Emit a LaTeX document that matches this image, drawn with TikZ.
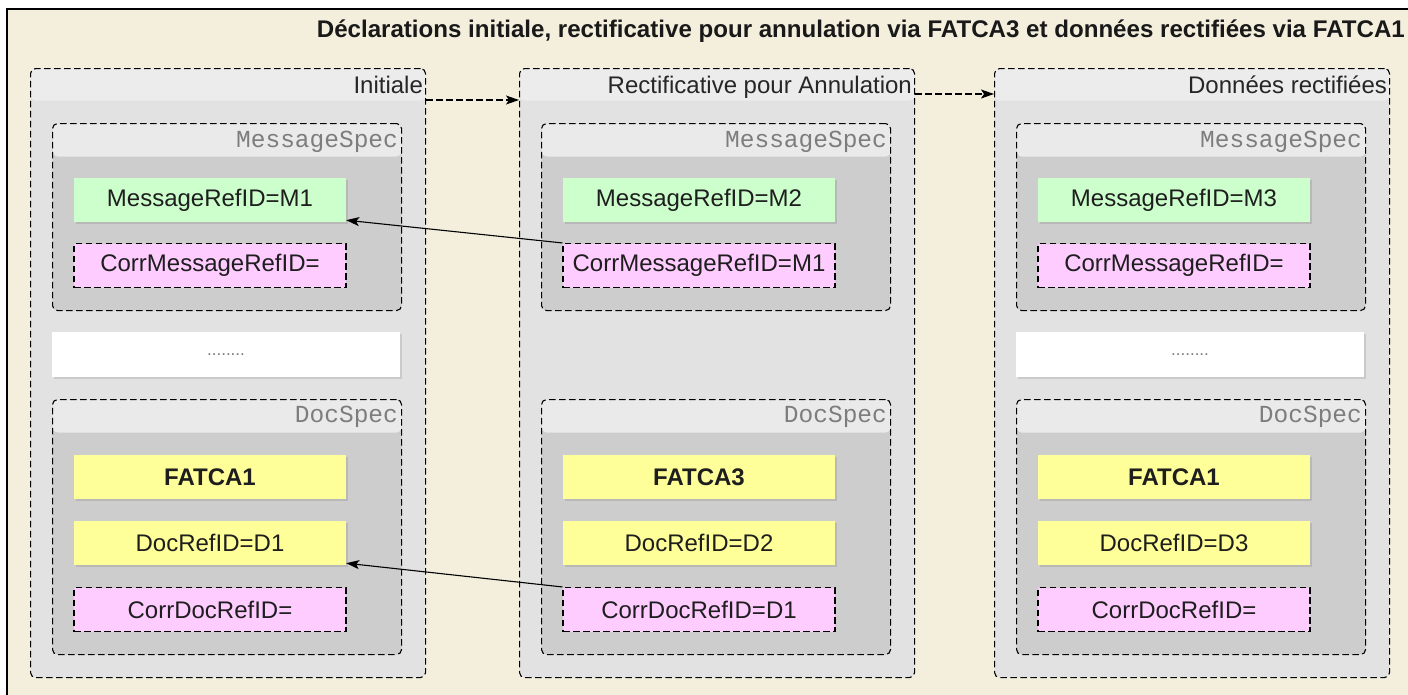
\documentclass[tikz,border=0pt]{standalone}
\usepackage{fontspec}
\setmainfont{Liberation Sans}
\setmonofont{Liberation Mono}
\usetikzlibrary{arrows.meta,shadows,calc}
\definecolor{bgbeige}{RGB}{243,239,220}
\definecolor{colhead}{RGB}{236,236,236}
\definecolor{colbody}{RGB}{226,226,226}
\definecolor{spechead}{RGB}{234,234,234}
\definecolor{specbody}{RGB}{205,205,205}
\definecolor{boxgreen}{RGB}{204,255,204}
\definecolor{boxpink}{RGB}{255,204,255}
\definecolor{boxyellow}{RGB}{255,255,153}
\definecolor{labgray}{RGB}{125,125,125}
\definecolor{txtdark}{RGB}{30,30,30}
\tikzset{
  dashln/.style={dash pattern=on 6.5pt off 3.5pt, line width=1.1pt},
  container/.style={draw=black, dashln, rounded corners=5pt, inner sep=0pt, anchor=north west},
  colbox/.style={container, fill=colbody, minimum width=395pt, minimum height=609pt,
    path picture={\fill[colhead] (path picture bounding box.north west) rectangle ([yshift=-32pt]path picture bounding box.north east);}},
  specbox/.style={container, fill=specbody, minimum width=349pt,
    path picture={\fill[spechead] (path picture bounding box.north west) rectangle ([yshift=-33pt]path picture bounding box.north east);}},
  collabel/.style={anchor=base east, inner sep=0pt, text=black!85, font=\fontsize{24}{27}\selectfont},
  speclabel/.style={anchor=base east, inner sep=0pt, text=labgray, font=\ttfamily\fontsize{24.5}{27}\selectfont},
  item/.style={minimum width=272pt, minimum height=44pt, inner sep=0pt, text=txtdark, font=\fontsize{24}{27}\selectfont},
  softshadow/.style={drop shadow={shadow xshift=2pt, shadow yshift=-2pt, fill=black, opacity=0.10}},
  greenbox/.style={item, fill=boxgreen, softshadow},
  yellowbox/.style={item, fill=boxyellow, softshadow},
  pinkbox/.style={item, fill=boxpink, draw=black, dashln},
  whitebox/.style={minimum width=348pt, minimum height=45pt, inner sep=0pt, fill=white, softshadow, text=labgray, font=\fontsize{17}{20}\selectfont},
  flowarrow/.style={dashln, -{Stealth[length=13pt,width=9pt,inset=3pt]}},
  refarrow/.style={line width=1.1pt, -{Stealth[length=13pt,width=9pt,inset=3pt]}},
}
\newcommand\mkcolumn[3]{%
  \node[colbox] (#1) at (#2,68) {};
  \node[collabel] (#1lab) at ([xshift=-3pt,yshift=-25pt]#1.north east) {#3};
  \node[specbox, minimum height=187pt] (#1ms) at (#2+22,123) {};
  \node[speclabel] (#1mslab) at ([xshift=-4pt,yshift=-24pt]#1ms.north east) {MessageSpec};
  \node[specbox, minimum height=255pt] (#1ds) at (#2+22,399) {};
  \node[speclabel] (#1dslab) at ([xshift=-4pt,yshift=-23pt]#1ds.north east) {DocSpec};
}
\begin{document}
\begin{tikzpicture}[x=1pt,y=-1pt]
\useasboundingbox (0,0) rectangle (1408,694);
\clip (0,0) rectangle (1408,694);
\fill[white] (0,0) rectangle (1408,694);
\draw[line width=1.2pt, fill=bgbeige] (7,9) rectangle (1430,720);
\node[anchor=base east, inner sep=0pt, text=black!90, font=\bfseries\fontsize{24.1}{28}\selectfont] (title) at (1405,37)
  {Déclarations initiale, rectificative pour annulation via FATCA3 et données rectifiées via FATCA1};

\mkcolumn{c1}{30}{Initiale}
\mkcolumn{c2}{519}{Rectificative pour Annulation}
\mkcolumn{c3}{994}{Données rectifiées}

% column 1
\node[greenbox] (c1mref) at (210,200) {MessageRefID=M1};
\node[pinkbox] (c1mcorr) at (210,265.5) {CorrMessageRefID=};
\node[whitebox] (c1dots) at (226,354.5) {........};
\node[yellowbox] (c1fatca) at (210,477) {\bfseries FATCA1};
\node[yellowbox] (c1dref) at (210,543) {DocRefID=D1};
\node[pinkbox] (c1dcorr) at (210,609.5) {CorrDocRefID=};

% column 2
\node[greenbox] (c2mref) at (699,200) {MessageRefID=M2};
\node[pinkbox] (c2mcorr) at (699,265.5) {CorrMessageRefID=M1};
\node[yellowbox] (c2fatca) at (699,477) {\bfseries FATCA3};
\node[yellowbox] (c2dref) at (699,543) {DocRefID=D2};
\node[pinkbox] (c2dcorr) at (699,609.5) {CorrDocRefID=D1};

% column 3
\node[greenbox] (c3mref) at (1174,200) {MessageRefID=M3};
\node[pinkbox] (c3mcorr) at (1174,265.5) {CorrMessageRefID=};
\node[whitebox] (c3dots) at (1190,354.5) {........};
\node[yellowbox] (c3fatca) at (1174,477) {\bfseries FATCA1};
\node[yellowbox] (c3dref) at (1174,543) {DocRefID=D3};
\node[pinkbox] (c3dcorr) at (1174,609.5) {CorrDocRefID=};

% flow arrows
\draw[flowarrow] ([yshift=-32pt]c1.north east) -- ([yshift=-32pt]c2.north west);
\draw[flowarrow] ([yshift=-26pt]c2.north east) -- ([yshift=-26pt]c3.north west);

% reference arrows
\draw[refarrow] (c2mcorr.north west) -- ([yshift=2pt]c1mref.south east);
\draw[refarrow] (c2dcorr.north west) -- ([yshift=2pt]c1dref.south east);
\end{tikzpicture}
\end{document}
